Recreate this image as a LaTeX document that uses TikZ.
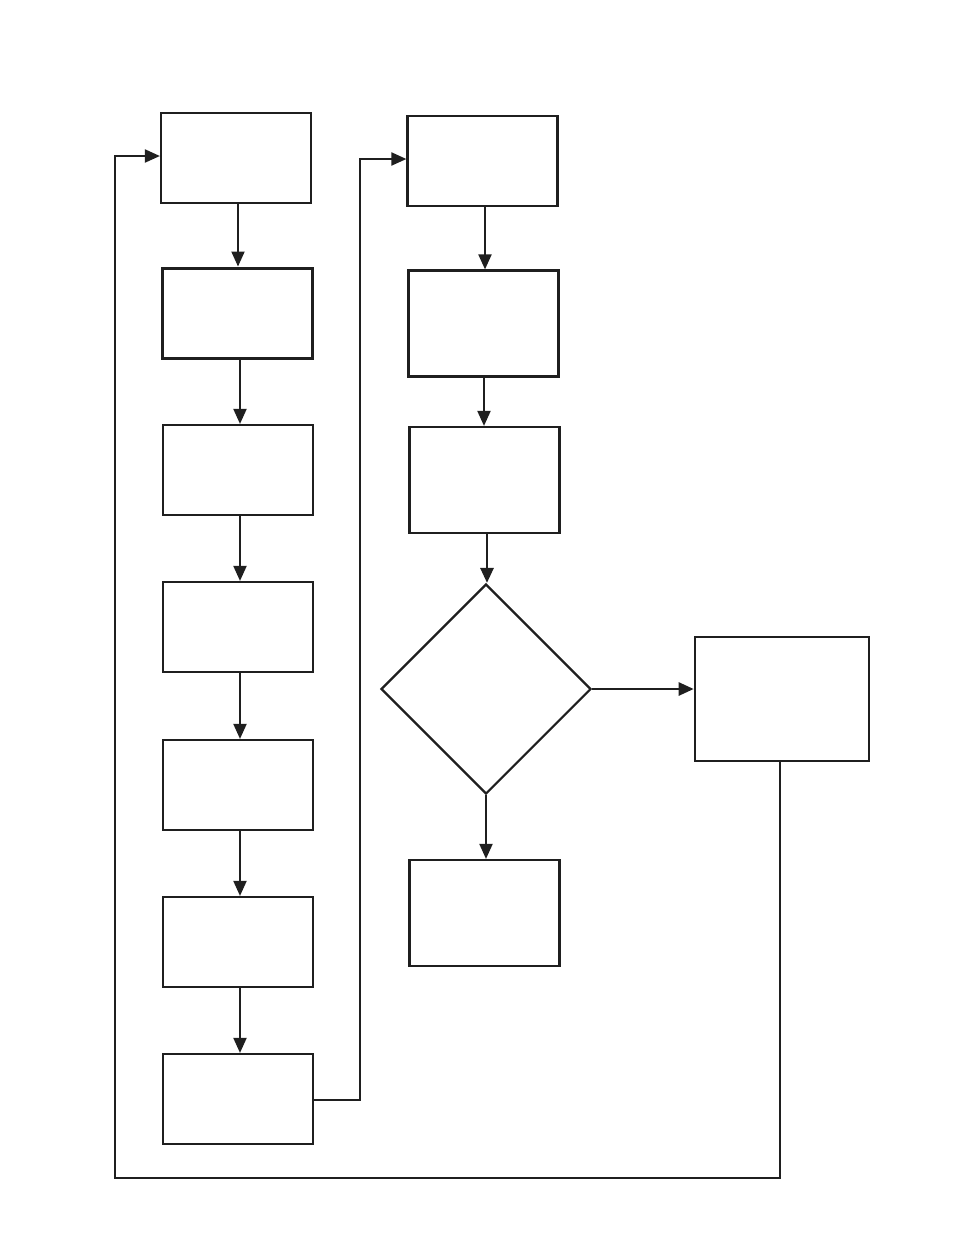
\documentclass[tikz,border=0pt]{standalone}
\usetikzlibrary{arrows.meta,shapes.geometric}
\begin{document}
\begin{tikzpicture}[x=1pt,y=-1pt,
  box/.style={draw=black!88,line width=2.2pt,inner sep=0pt,minimum width=150pt,minimum height=90pt},
  tallbox/.style={box,minimum height=106pt},
  dec/.style={draw=black!88,line width=2.2pt,diamond,aspect=1,inner sep=0pt,minimum width=210pt,minimum height=210pt},
  conn/.style={draw=black!88,line width=2pt},
  arr/.style={conn,-{Triangle[length=15pt,width=13pt]}}]
\useasboundingbox (0,0) rectangle (954,1235);
\node[box] (b1) at (236,158) {};
\node[box,line width=3pt] (b2) at (237,313) {};
\node[box] (b3) at (238,470) {};
\node[box] (b4) at (238,627) {};
\node[box] (b5) at (238,785) {};
\node[box] (b6) at (238,942) {};
\node[box] (b7) at (238,1099) {};
\node[box] (r1) at (482.5,161) {};
\node[tallbox] (r2) at (483.5,323.5) {};
\node[tallbox] (r3) at (484.5,480) {};
\node[dec] (d) at (486,689) {};
\node[tallbox] (r4) at (484.5,913) {};
\node[box,minimum width=174pt,minimum height=124pt,line width=2.6pt] (s) at (782,699) {};
\coordinate (a1) at (238,203);
\draw[arr] (a1) -- (a1 |- b2.north);
\coordinate (a2) at (240,358);
\draw[arr] (a2) -- (a2 |- b3.north);
\coordinate (a3) at (240,515);
\draw[arr] (a3) -- (a3 |- b4.north);
\coordinate (a4) at (240,672);
\draw[arr] (a4) -- (a4 |- b5.north);
\coordinate (a5) at (240,830);
\draw[arr] (a5) -- (a5 |- b6.north);
\coordinate (a6) at (240,987);
\draw[arr] (a6) -- (a6 |- b7.north);
\coordinate (c1) at (485,206);
\draw[arr] (c1) -- (c1 |- r2.north);
\coordinate (c2) at (484,376);
\draw[arr] (c2) -- (c2 |- r3.north);
\coordinate (c3) at (487,533);
\draw[arr,line width=2.8pt] (c3) -- (c3 |- d.north);
\draw[arr] (d.south) -- (d.south |- r4.north);
\draw[arr,line width=2.6pt] (d.east) -- (d.east -| s.west);
\coordinate (k1) at (360,1100);
\coordinate (k2) at (360,159);
\draw[arr] (k1 -| b7.east) -- (k1) -- (k2) -- (k2 -| r1.west);
\coordinate (m1) at (780,761);
\coordinate (m2) at (780,1178);
\coordinate (m3) at (115,1178);
\coordinate (m4) at (115,156);
\draw[arr] (m1) -- (m2) -- (m3) -- (m4) -- (m4 -| b1.west);
\end{tikzpicture}
\end{document}
